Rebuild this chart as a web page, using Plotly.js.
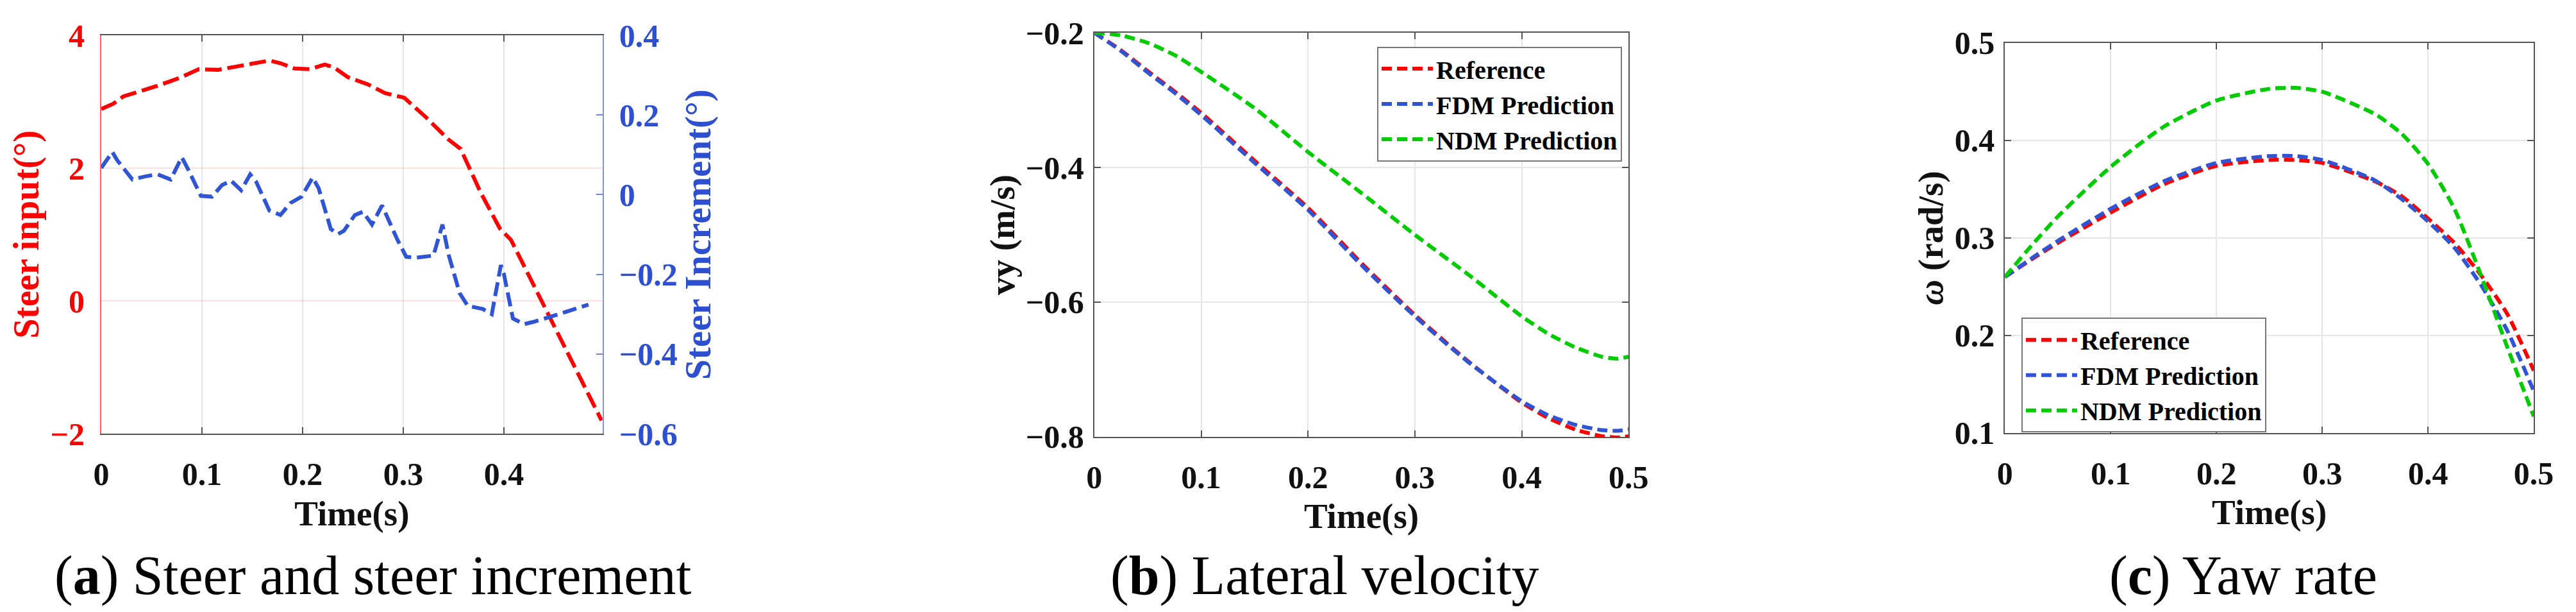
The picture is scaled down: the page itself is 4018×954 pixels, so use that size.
<!DOCTYPE html>
<html>
<head>
<meta charset="utf-8">
<script src="https://cdn.plot.ly/plotly-3.0.1.min.js"></script>
<style>
  html, body { margin: 0; padding: 0; background: #fff; }
  #chart { width: 4018px; height: 954px; }
</style>
</head>
<body>
<div id="chart"></div>
<script>
// (a) steer input (left axis) and steer increment (right axis)
var steerTime = [0, 0.012, 0.022, 0.039, 0.056, 0.078, 0.086, 0.097, 0.116, 0.133, 0.15, 0.167, 0.178, 0.192, 0.207, 0.222, 0.231, 0.245, 0.265, 0.282, 0.301, 0.323, 0.345, 0.357, 0.377, 0.396, 0.407, 0.43, 0.451, 0.473, 0.497];
var steerInput = [2.89, 2.97, 3.08, 3.16, 3.24, 3.36, 3.42, 3.49, 3.48, 3.53, 3.57, 3.62, 3.58, 3.50, 3.49, 3.56, 3.52, 3.37, 3.26, 3.13, 3.06, 2.76, 2.43, 2.29, 1.63, 1.09, 0.92, 0.22, -0.43, -1.10, -1.80];

var incTime = [0, 0.011, 0.016, 0.031, 0.044, 0.056, 0.069, 0.08, 0.086, 0.099, 0.11, 0.12, 0.129, 0.139, 0.148, 0.154, 0.167, 0.178, 0.188, 0.199, 0.21, 0.216, 0.228, 0.235, 0.241, 0.252, 0.26, 0.269, 0.279, 0.294, 0.303, 0.313, 0.33, 0.339, 0.345, 0.356, 0.364, 0.379, 0.388, 0.397, 0.4, 0.409, 0.42, 0.43, 0.447, 0.466, 0.484];
var steerIncrement = [0.067, 0.107, 0.086, 0.038, 0.046, 0.051, 0.038, 0.094, 0.065, -0.003, -0.005, 0.024, 0.035, 0.011, 0.051, 0.032, -0.040, -0.051, -0.021, -0.005, 0.043, 0.016, -0.086, -0.099, -0.091, -0.051, -0.043, -0.075, -0.027, -0.112, -0.156, -0.158, -0.153, -0.075, -0.150, -0.247, -0.279, -0.287, -0.300, -0.177, -0.199, -0.311, -0.325, -0.319, -0.306, -0.290, -0.276];

// (b) lateral velocity
var vyTime = [0, 0.025, 0.05, 0.075, 0.1, 0.15, 0.2, 0.25, 0.3, 0.35, 0.4, 0.425, 0.45, 0.475, 0.49, 0.5];
var vyReference = [-0.200, -0.226, -0.257, -0.287, -0.319, -0.390, -0.460, -0.542, -0.619, -0.688, -0.749, -0.772, -0.789, -0.799, -0.801, -0.799];
var vyFDM = [-0.200, -0.227, -0.259, -0.289, -0.322, -0.393, -0.463, -0.545, -0.621, -0.689, -0.747, -0.768, -0.782, -0.790, -0.791, -0.789];
var vyNDM = [-0.200, -0.204, -0.215, -0.233, -0.258, -0.312, -0.377, -0.438, -0.500, -0.559, -0.621, -0.647, -0.667, -0.681, -0.684, -0.681];

// (c) yaw rate
var wTime = [0, 0.025, 0.05, 0.1, 0.15, 0.2, 0.25, 0.275, 0.3, 0.35, 0.375, 0.4, 0.425, 0.45, 0.475, 0.5];
var wReference = [0.260, 0.278, 0.295, 0.326, 0.355, 0.374, 0.380, 0.380, 0.377, 0.358, 0.343, 0.320, 0.295, 0.262, 0.222, 0.164];
var wFDM = [0.260, 0.279, 0.297, 0.330, 0.358, 0.377, 0.384, 0.384, 0.380, 0.359, 0.340, 0.317, 0.290, 0.252, 0.205, 0.143];
var wNDM = [0.260, 0.292, 0.322, 0.373, 0.414, 0.441, 0.453, 0.454, 0.450, 0.427, 0.407, 0.376, 0.330, 0.262, 0.188, 0.117];

var seriesNames = ['Reference', 'FDM Prediction', 'NDM Prediction'];
var RED = '#ff0000', BLUE = '#2f55d4', GREEN = '#00cc00';

var serif = '"Liberation Serif", "Times New Roman", serif';
function font(size, color, weight) {
  return { family: serif, size: size, color: color, weight: weight || 'normal' };
}

function curve(x, y, color, name, xa, ya, lg, dash) {
  return {
    x: x, y: y, name: name, xaxis: xa, yaxis: ya, legend: lg,
    type: 'scatter', mode: 'lines',
    line: { color: color, width: 6, dash: dash || '16px,8px', shape: 'spline', smoothing: 0.6 },
    showlegend: !!lg
  };
}

var data = [
  // panel a
  { x: steerTime, y: steerInput, xaxis: 'x', yaxis: 'y', type: 'scatter', mode: 'lines',
    line: { color: RED, width: 6, dash: '26px,9px' }, showlegend: false },
  { x: incTime, y: steerIncrement, xaxis: 'x', yaxis: 'y2', type: 'scatter', mode: 'lines',
    line: { color: BLUE, width: 6, dash: '22px,9px' }, showlegend: false },
  // panel b
  curve(vyTime, vyReference, RED, seriesNames[0], 'x2', 'y3', 'legend'),
  curve(vyTime, vyFDM, BLUE, seriesNames[1], 'x2', 'y3', 'legend'),
  curve(vyTime, vyNDM, GREEN, seriesNames[2], 'x2', 'y3', 'legend'),
  // panel c
  curve(wTime, wReference, RED, seriesNames[0], 'x3', 'y4', 'legend2'),
  curve(wTime, wFDM, BLUE, seriesNames[1], 'x3', 'y4', 'legend2'),
  curve(wTime, wNDM, GREEN, seriesNames[2], 'x3', 'y4', 'legend2')
];

var tickF = font(50, '#111', 'bold');
var titleF = font(55, '#111', 'bold');

function timeAxis(domain, anchor, range) {
  return {
    domain: domain, anchor: anchor, range: range, tick0: 0, dtick: 0.1,
    ticks: 'inside', ticklen: 10, tickwidth: 2, tickcolor: '#555',
    showline: true, linecolor: '#555', linewidth: 2, mirror: 'ticks',
    showgrid: true, gridcolor: '#e6e6e6', gridwidth: 2, zeroline: false,
    tickfont: tickF, ticklabelstandoff: 18,
    title: { text: 'Time(s)', font: titleF, standoff: 14 }
  };
}

function valueAxis(domain, anchor, range, dtick, title) {
  return {
    domain: domain, anchor: anchor, range: range, dtick: dtick,
    ticks: 'inside', ticklen: 10, tickwidth: 2, tickcolor: '#555',
    showline: true, linecolor: '#555', linewidth: 2, mirror: 'ticks',
    showgrid: true, gridcolor: '#e6e6e6', gridwidth: 2, zeroline: false,
    tickfont: tickF, ticklabelstandoff: 4,
    title: { text: title, font: titleF, standoff: 0 }
  };
}

var legendBase = {
  xanchor: 'left', yanchor: 'top', bgcolor: '#fff', bordercolor: '#777', borderwidth: 2,
  font: font(40, '#000', 'bold'), itemwidth: 80, tracegroupgap: 0, traceorder: 'normal'
};

var layout = {
  width: 4018, height: 954,
  margin: { l: 0, r: 0, t: 0, b: 0 },
  paper_bgcolor: '#fff', plot_bgcolor: '#fff',
  xaxis: timeAxis([0.0393, 0.2339], 'y', [0, 0.498]),
  yaxis: {
    domain: [0.2914, 0.9423], anchor: 'x', range: [-2, 4], dtick: 2,
    ticks: '', showline: true, linecolor: '#ff6060', linewidth: 2,
    showgrid: true, gridcolor: 'rgba(255,0,0,0.13)', gridwidth: 2, zeroline: false,
    tickfont: font(50, RED, 'bold'), ticklabelstandoff: 14,
    title: { text: 'Steer input(°)', font: font(56, RED, 'bold'), standoff: 0 }
  },
  yaxis2: {
    overlaying: 'y', side: 'right', anchor: 'x', range: [-0.6, 0.4], dtick: 0.2,
    ticks: 'inside', ticklen: 10, tickwidth: 2, tickcolor: '#6f86dc',
    showline: true, linecolor: '#8496de', linewidth: 2,
    showgrid: false, zeroline: false,
    tickfont: font(50, '#2e4fd0', 'bold'), ticklabelstandoff: 14,
    title: { text: 'Steer Increment(°)', font: font(57, '#2e4fd0', 'bold'), standoff: 0 }
  },
  xaxis2: timeAxis([0.4248, 0.6322], 'y3', [0, 0.5]),
  yaxis3: valueAxis([0.2862, 0.9465], 'x2', [-0.8, -0.2], 0.2, 'vy (m/s)'),
  xaxis3: timeAxis([0.7783, 0.9836], 'y4', [0, 0.5]),
  yaxis4: valueAxis([0.2925, 0.9298], 'x3', [0.1, 0.5], 0.1, '<i>ω</i> (rad/s)'),
  legend: Object.assign({ x: 0.5346, y: 0.924 }, legendBase),
  legend2: Object.assign({ x: 0.7847, y: 0.481 }, legendBase),
  annotations: [
    { text: '(<b>a</b>) Steer and steer increment', x: 0.1446 },
    { text: '(<b>b</b>) Lateral velocity', x: 0.5142 },
    { text: '(<b>c</b>) Yaw rate', x: 0.8708 }
  ].map(function (c) {
    return { xref: 'paper', yref: 'paper', x: c.x, y: 0.06, xanchor: 'center', yanchor: 'middle',
             text: c.text, showarrow: false, font: font(86, '#000', 'normal') };
  })
};

Plotly.newPlot('chart', data, layout, { displayModeBar: false, staticPlot: true });
</script>
</body>
</html>
